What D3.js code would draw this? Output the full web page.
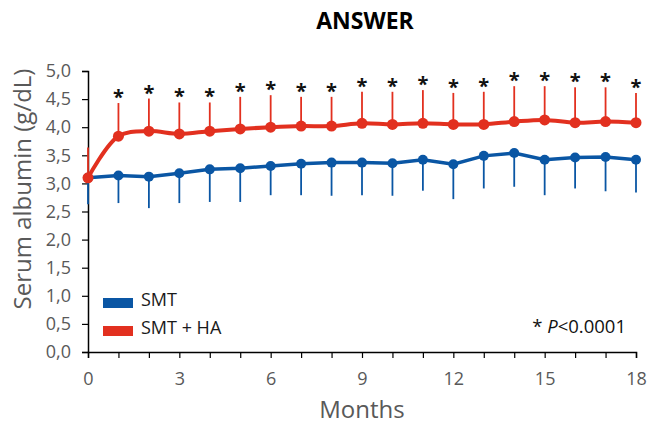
<!DOCTYPE html>
<html lang="en">
<head>
  <meta charset="UTF-8">
  <title>ANSWER - serum albumin</title>
  <script src="https://d3js.org/d3.v7.min.js"></script>
  <style type="text/css">
    body { margin: 0; background: #fff; }
    text { font-family: "Open Sans", Lato, sans-serif; }
  </style>
</head>
<body>
<script type="text/javascript">
  var months = [0,1,2,3,4,5,6,7,8,9,10,11,12,13,14,15,16,17,18];
  var smt    = [3.10,3.14,3.12,3.18,3.25,3.27,3.31,3.35,3.37,3.37,3.36,3.42,3.34,3.49,3.54,3.42,3.46,3.47,3.42];
  var smtLow = [2.63,2.65,2.56,2.65,2.67,2.67,2.79,2.79,2.78,2.79,2.78,2.87,2.72,2.91,2.94,2.79,2.91,2.86,2.84];
  var smtHa    = [3.10,3.84,3.93,3.88,3.93,3.97,4.00,4.02,4.02,4.07,4.05,4.07,4.05,4.05,4.10,4.13,4.08,4.10,4.08];
  var smtHaTop = [3.64,4.43,4.51,4.44,4.44,4.54,4.57,4.54,4.54,4.63,4.63,4.66,4.61,4.63,4.73,4.73,4.71,4.71,4.61];
  var yTicks = [0,0.5,1,1.5,2,2.5,3,3.5,4,4.5,5];
  var xLabels = [0,3,6,9,12,15,18];

  var width = 647, height = 432;
  var margin = {top: 71, right: 11, bottom: 80, left: 88};
  var blue = "#0a56a4", red = "#e2301f", grey = "#595959";

  var svg = d3.select("body").append("svg")
              .attr("width", width)
              .attr("height", height);

  var x = d3.scaleLinear().domain([0, 18]).range([margin.left, width - margin.right]);
  var y = d3.scaleLinear().domain([0, 5]).range([height - margin.bottom, margin.top]);

  // axes
  var yAxis = svg.append("g")
      .attr("transform", "translate(" + margin.left + ",0)")
      .call(d3.axisLeft(y).tickValues(yTicks).tickSize(6).tickPadding(11)
            .tickFormat(function(d){ return d3.format(".1f")(d).replace(".", ","); }));
  var xAxis = svg.append("g")
      .attr("transform", "translate(0," + (height - margin.bottom) + ")")
      .call(d3.axisBottom(x).tickValues(months).tickSize(6).tickPadding(14)
            .tickFormat(function(d){ return xLabels.indexOf(d) >= 0 ? d : ""; }));

  [yAxis, xAxis].forEach(function(g){
    g.select(".domain").attr("stroke", "#000").attr("stroke-width", 1.5);
    g.selectAll(".tick line").attr("stroke", "#000").attr("stroke-width", 1.2);
    g.selectAll(".tick text").attr("fill", grey)
      .style("font-family", "'Open Sans', sans-serif").style("font-size", "18px");
  });

  // error bars
  svg.append("g").selectAll("line")
    .data(months).enter().append("line")
    .attr("x1", function(d){ return x(d); })
    .attr("x2", function(d){ return x(d); })
    .attr("y1", function(d,i){ return y(smt[i]); })
    .attr("y2", function(d,i){ return y(smtLow[i]); })
    .attr("stroke", blue).attr("stroke-width", 1.8);

  svg.append("g").selectAll("line")
    .data(months).enter().append("line")
    .attr("x1", function(d){ return x(d); })
    .attr("x2", function(d){ return x(d); })
    .attr("y1", function(d,i){ return y(smtHa[i]); })
    .attr("y2", function(d,i){ return y(smtHaTop[i]); })
    .attr("stroke", red).attr("stroke-width", 1.8);

  // lines
  var lineBlue = d3.line()
    .x(function(d){ return x(d); })
    .y(function(d,i){ return y(smt[i]); });
  var lineRed = d3.line()
    .curve(d3.curveCatmullRom.alpha(0.5))
    .x(function(d){ return x(d); })
    .y(function(d,i){ return y(smtHa[i]); });

  svg.append("path").datum(months)
    .attr("d", lineBlue)
    .attr("fill", "none").attr("stroke", blue).attr("stroke-width", 3.5);
  svg.append("g").selectAll("circle")
    .data(months).enter().append("circle")
    .attr("cx", function(d){ return x(d); })
    .attr("cy", function(d,i){ return y(smt[i]); })
    .attr("r", 5).attr("fill", blue);

  svg.append("path").datum(months)
    .attr("d", lineRed)
    .attr("fill", "none").attr("stroke", red).attr("stroke-width", 4);
  svg.append("g").selectAll("circle")
    .data(months).enter().append("circle")
    .attr("cx", function(d){ return x(d); })
    .attr("cy", function(d,i){ return y(smtHa[i]); })
    .attr("r", 5.5).attr("fill", red);

  // significance stars (from month 1)
  svg.append("g").selectAll("text")
    .data(months.slice(1)).enter().append("text")
    .attr("x", function(d){ return x(d); })
    .attr("y", function(d){ return y(smtHaTop[d]) + 1; })
    .attr("text-anchor", "middle")
    .style("font-size", "20px").style("font-weight", "bold")
    .attr("fill", "#111")
    .text("*");

  // title and axis labels
  svg.append("text")
    .attr("x", 365).attr("y", 29)
    .attr("text-anchor", "middle")
    .style("font-size", "23px").style("font-weight", "bold")
    .attr("fill", "#000")
    .text("ANSWER");

  svg.append("text")
    .attr("transform", "translate(31,189) rotate(-90)")
    .attr("text-anchor", "middle")
    .style("font-size", "24px")
    .attr("fill", grey)
    .text("Serum albumin (g/dL)");

  svg.append("text")
    .attr("x", (margin.left + width - margin.right) / 2).attr("y", 418)
    .attr("text-anchor", "middle")
    .style("font-size", "24px")
    .attr("fill", grey)
    .text("Months");

  // legend
  var legend = [["SMT", blue], ["SMT + HA", red]];
  var lg = svg.append("g").selectAll("g")
    .data(legend).enter().append("g")
    .attr("transform", function(d,i){ return "translate(103," + (298 + i * 28) + ")"; });
  lg.append("rect").attr("width", 30).attr("height", 10)
    .attr("fill", function(d){ return d[1]; });
  lg.append("text").attr("x", 38).attr("y", 8)
    .style("font-size", "18px").attr("fill", "#1a1a1a")
    .text(function(d){ return d[0]; });

  var note = svg.append("text")
    .attr("x", 626).attr("y", 333)
    .attr("text-anchor", "end")
    .style("font-size", "18.5px").attr("fill", "#111");
  note.append("tspan").text("* ");
  note.append("tspan").style("font-style", "italic").text("P");
  note.append("tspan").text("<0.0001");
</script>
</body>
</html>
